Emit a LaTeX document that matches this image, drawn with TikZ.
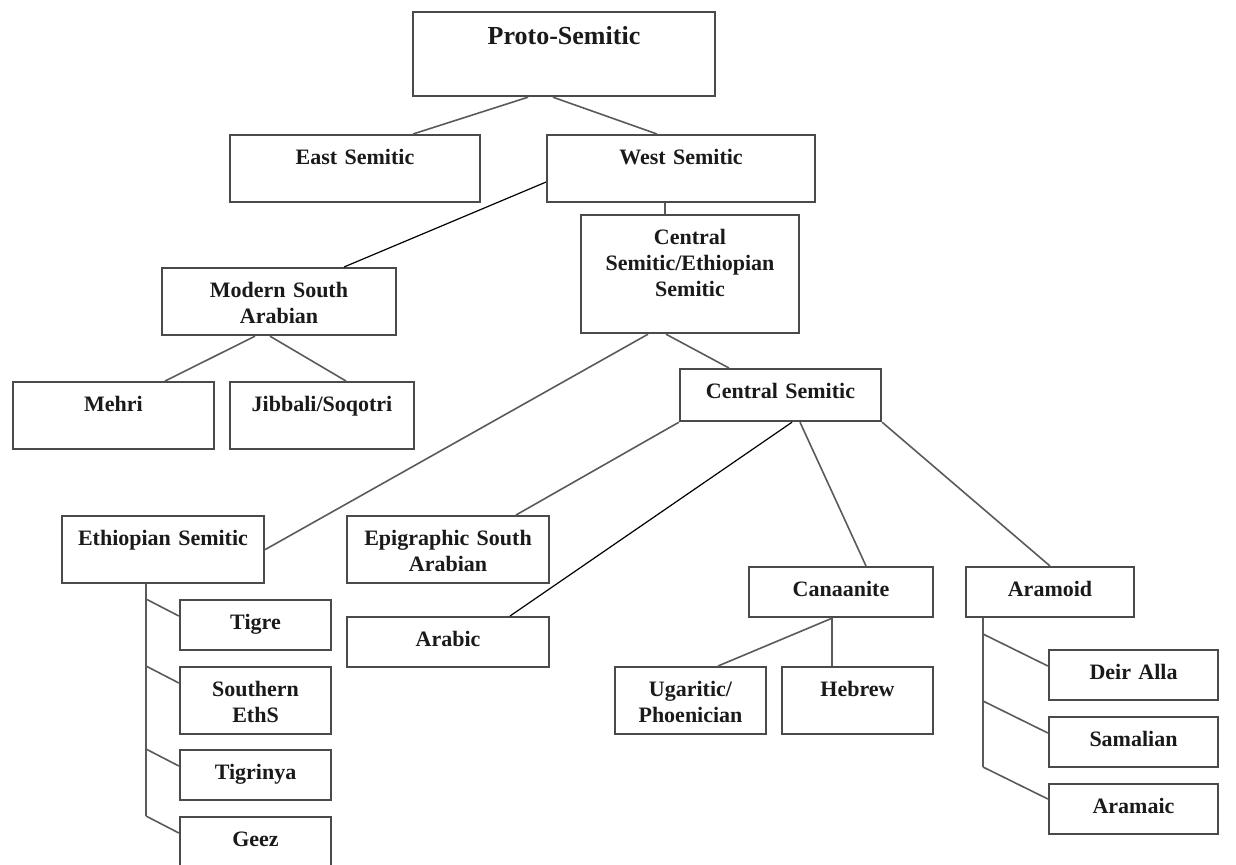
\documentclass[tikz,border=0pt]{standalone}
\usepackage{fontspec}
\setmainfont{Liberation Serif}
\usetikzlibrary{positioning,calc}

\definecolor{boxgray}{HTML}{4A4A4A}
\definecolor{linegray}{HTML}{5A5A5A}
\definecolor{inkblack}{HTML}{1A1A1A}

\begin{document}
\begin{tikzpicture}[
            x = 0.5pt, % one unit per pixel
            y = -0.5pt, % y runs downwards
            semithick % line style
        ]

        \tikzstyle{lang}=[
            draw = boxgray,
            line width = 1.1pt,
            fill = white,
            inner sep = 0pt,
            anchor = north,
            align = center,
            text = inkblack,
            text height = 14.5pt,
            font = \fontsize{11}{13}\selectfont\bfseries
        ]
        \tikzstyle{lowbox}=[text depth = 10.5pt] % 50px high
        \tikzstyle{highbox}=[text depth = 19pt] % 67px high
        \tikzstyle{famline}=[draw = linegray, line width = 0.8pt]
        \tikzstyle{fineline}=[draw = black, line width = 0.6pt]

        \useasboundingbox (0,0) rectangle (1236,864);
        \clip (0,0) rectangle (1236,864);

        \node[lang, text width=151pt, text height=16pt, text depth=26pt,
              font=\fontsize{13}{15}\selectfont\bfseries] (proto) at (564,11) {Proto-Semitic};
        \node[lang, highbox, text width=125pt] (east) at (355,134) {East Semitic};
        \node[lang, highbox, text width=134pt] (west) at (681,134) {West Semitic};
        \node[lang, text width=109pt, text depth=44.5pt] (cse) at (690,214) {Central\\Semitic/Ethiopian\\Semitic};
        \node[lang, highbox, text width=117pt] (msa) at (279,267) {Modern South\\Arabian};
        \node[lang, highbox, text width=100.5pt] (mehri) at (113.5,381) {Mehri};
        \node[lang, highbox, text width=92pt] (jibbali) at (322,381) {Jibbali/Soqotri};
        \node[lang, text width=100.5pt, text depth=11.5pt] (cs) at (780.5,368) {Central Semitic};
        \node[lang, highbox, text width=101pt] (eths) at (163,515) {Ethiopian Semitic};
        \node[lang, highbox, text width=101pt] (esa) at (448,515) {Epigraphic South\\Arabian};
        \node[lang, lowbox, text width=101pt] (arabic) at (448,616) {Arabic};
        \node[lang, lowbox, text width=75.5pt] (tigre) at (255.5,599) {Tigre};
        \node[lang, highbox, text width=75.5pt] (south) at (255.5,666) {Southern\\EthS};
        \node[lang, lowbox, text width=75.5pt] (tigrinya) at (255.5,749) {Tigrinya};
        \node[lang, highbox, text width=75.5pt] (geez) at (255.5,816) {Geez};
        \node[lang, lowbox, text width=92pt] (canaan) at (841,566) {Canaanite};
        \node[lang, lowbox, text width=84pt] (aramoid) at (1050,566) {Aramoid};
        \node[lang, highbox, text width=75.5pt] (ugarit) at (690.5,666) {Ugaritic/\\Phoenician};
        \node[lang, highbox, text width=75.5pt] (hebrew) at (857.5,666) {Hebrew};
        \node[lang, lowbox, text width=84.5pt] (deir) at (1133.5,649) {Deir Alla};
        \node[lang, lowbox, text width=84.5pt] (samal) at (1133.5,716) {Samalian};
        \node[lang, lowbox, text width=84.5pt] (aramaic) at (1133.5,783) {Aramaic};

        \draw[famline] ([xshift=-18pt]proto.south) -- ([xshift=29pt]east.north);
        \draw[famline] ([xshift=-5.5pt]proto.south) -- ([xshift=-12pt]west.north);
        \draw[fineline] ([yshift=-6.75pt]west.west) -- ([xshift=32.5pt]msa.north);
        \draw[famline] ([xshift=-8pt]west.south) -- ([xshift=-12.5pt]cse.north);
        \draw[famline] ([xshift=-12pt]msa.south) -- ([xshift=25.75pt]mehri.north);
        \draw[famline] ([xshift=-4.5pt]msa.south) -- ([xshift=12pt]jibbali.north);
        \draw[famline] ([xshift=-21pt]cse.south) -- (eths.east);
        \draw[famline] ([xshift=-12pt]cse.south) -- ([xshift=-25.75pt]cs.north);
        \draw[famline] (cs.south west) -- ([xshift=34pt]esa.north);
        \draw[fineline] ([xshift=5.75pt]cs.south) -- ([xshift=31pt]arabic.north);
        \draw[famline] ([xshift=9.75pt]cs.south) -- ([xshift=12.5pt]canaan.north);
        \draw[famline] (cs.south east) -- (aramoid.north);
        \draw[famline] ([xshift=-4.5pt]canaan.south) -- ([xshift=13.75pt]ugarit.north);
        \draw[famline] ([xshift=-4.5pt]canaan.south) -- ([xshift=-12.75pt]hebrew.north);

        % Ethiopian Semitic comb
        \coordinate (ethroot) at ([xshift=-8.5pt]eths.south);
        \draw[famline] (ethroot) -- (ethroot |- geez.north);
        \draw[famline] (ethroot |- tigre.north) -- ([yshift=-8.5pt]tigre.north west);
        \draw[famline] (ethroot |- south.north) -- ([yshift=-8.5pt]south.north west);
        \draw[famline] (ethroot |- tigrinya.north) -- ([yshift=-8.5pt]tigrinya.north west);
        \draw[famline] (ethroot |- geez.north) -- ([yshift=-8.5pt]geez.north west);

        % Aramoid comb
        \coordinate (aramroot) at ([xshift=-33.5pt]aramoid.south);
        \draw[famline] (aramroot) -- ($(aramroot |- aramaic.north)+(0pt,8pt)$);
        \draw[famline] ($(aramroot |- deir.north)+(0pt,7.5pt)$) -- ([yshift=-8.5pt]deir.north west);
        \draw[famline] ($(aramroot |- samal.north)+(0pt,7.5pt)$) -- ([yshift=-8.5pt]samal.north west);
        \draw[famline] ($(aramroot |- aramaic.north)+(0pt,8pt)$) -- ([yshift=-8pt]aramaic.north west);

    \end{tikzpicture}
\end{document}
